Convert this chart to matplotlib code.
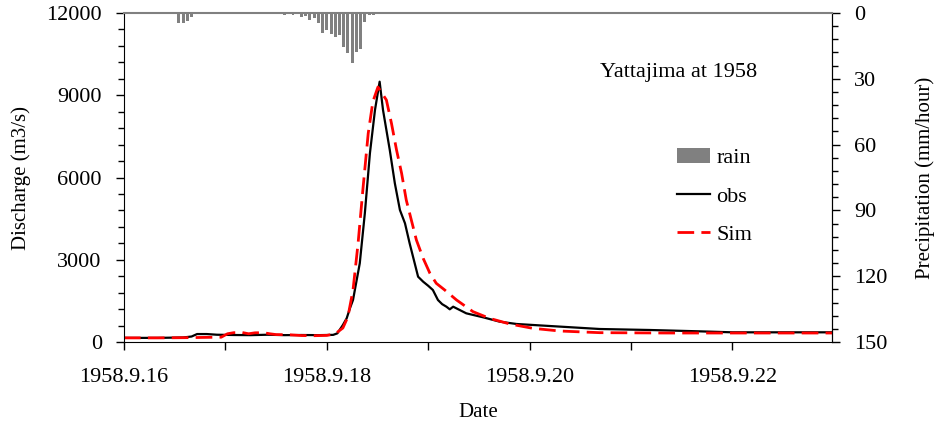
import matplotlib
matplotlib.use('Agg')
from matplotlib import pyplot as plt
from matplotlib.ticker import MultipleLocator

plt.rcParams['font.family'] = ['Liberation Serif', 'DejaVu Serif']

# hours counted from 1958-09-16 00:00
rain_hour = [3, 4, 12, 13, 14, 15, 16, 17,
             30, 31, 32, 33, 34, 35, 36, 37, 38, 39,
             40, 41, 42, 43, 44, 45, 46, 47, 48, 49,
             50, 51, 52, 53, 54, 55, 56, 57, 58, 59,
             60, 61, 62, 63, 64,
             153, 154, 155, 156, 157, 158, 159, 160]
rain_mm = [0.4, 0.5, 0.6, 4.6, 4.4, 3.6, 1.6, 0.5,
           0.4, 0.4, 0.3, 0.5, 0.4, 0.4, 0.5, 0.6, 0.8, 0.6,
           0.9, 0.6, 1.7, 1.4, 3.2, 2.4, 4.7, 9.3, 7.7, 9.7,
           10.8, 10.0, 15.4, 18.1, 22.9, 17.6, 16.4, 4.0, 0.9, 0.7,
           0.6, 0.5, 0.5, 0.4, 0.3,
           0.3, 0.4, 0.3, 0.5, 0.4, 0.5, 0.3, 0.4]

obs_hour = [0, 8, 14, 16, 17.3, 19.6, 22, 26, 30, 34, 38, 42, 46, 49.5,
            50.5, 51.8, 52.7, 53.5, 54.2, 55.8, 57.0, 58.2, 59.4, 60.5,
            61.3, 61.7, 62.9, 64.1, 65.3, 66.5, 67.6, 68.8, 69.6, 70.8,
            72, 73.1, 74.3, 75.3, 76.3, 77.1, 77.9, 81, 85, 88.9, 92.9,
            100.7, 112.6, 124.4, 136.2, 144, 168]
obs_q = [150, 150, 165, 200, 290, 290, 265, 255, 250, 265, 250, 255, 250, 260,
         316, 620, 864, 1240, 1532, 2870, 4694, 6882, 8462, 9495,
         8462, 8097, 7003, 5788, 4815, 4329, 3600, 2870, 2382, 2200,
         2050, 1897, 1532, 1380, 1288, 1192, 1288, 1046, 900, 742, 657,
         584, 474, 438, 389, 353, 353]

sim_hour = [0, 8, 16, 20, 23, 24.5, 26, 28, 29.5, 31, 33, 34.5, 36, 39, 42,
            45, 48, 50, 51.8, 53, 54.2, 55.4, 56.6, 57.8, 58.9, 60.1,
            62.1, 63.3, 64.5, 65.7, 66.8, 68, 69.2, 70.8, 72.4, 73.9,
            75.9, 78.7, 82.6, 86.5, 91.3, 96.7, 103.1, 112.6, 128.3, 168]
sim_q = [150, 150, 160, 170, 175, 300, 340, 345, 300, 335, 340, 300, 270, 265, 235,
         230, 240, 300, 510, 923, 1897, 3600, 5665, 7612, 8766, 9300,
         8827, 7977, 7003, 6153, 5180, 4450, 3720, 3053, 2506, 2141,
         1897, 1532, 1106, 864, 657, 500, 401, 340, 328, 328]

date_ticks = [0, 48, 96, 144]
date_labels = ['1958.9.16', '1958.9.18', '1958.9.20', '1958.9.22']

fig = plt.figure(figsize=(9.35, 4.25), dpi=100)
ax = fig.add_axes([0.1326, 0.1953, 0.757, 0.7741])
ax2 = ax.twinx()

l_obs, = ax.plot(obs_hour, obs_q, color='black', linewidth=1.6, label='obs')
l_sim, = ax.plot(sim_hour, sim_q, color='red', linewidth=2.0,
                 dashes=(6, 2.6), label='Sim')
bars = ax2.bar(rain_hour, rain_mm, width=0.7, color='#808080', label='rain')

ax.set_xlim(0, 167.5)
ax.set_ylim(0, 12000)
ax2.set_ylim(150, 0)

ax.set_xticks(date_ticks)
ax.set_xticklabels(date_labels)
ax.xaxis.set_minor_locator(MultipleLocator(24))
ax.yaxis.set_major_locator(MultipleLocator(3000))
ax.yaxis.set_minor_locator(MultipleLocator(600))
ax2.yaxis.set_major_locator(MultipleLocator(30))
ax2.yaxis.set_minor_locator(MultipleLocator(6))

ax.tick_params(axis='both', which='major', direction='out', length=6,
               width=1, labelsize=16)
ax.tick_params(axis='x', which='major', pad=13)
ax.tick_params(axis='y', which='major', pad=10)
ax.tick_params(axis='both', which='minor', direction='out', length=4, width=1)
ax.tick_params(axis='x', which='minor', length=6)
ax2.tick_params(axis='y', which='major', direction='out', length=6,
                width=1, labelsize=16, pad=10)
ax2.tick_params(axis='y', which='minor', direction='out', length=4, width=1)

ax.spines['top'].set_visible(False)
ax2.spines['top'].set_color('#808080')
ax2.spines['top'].set_linewidth(1.5)
ax2.spines['left'].set_visible(False)
ax2.spines['bottom'].set_visible(False)

ax.set_xlabel('Date', fontsize=15, labelpad=11)
ax.set_ylabel('Discharge (m3/s)', fontsize=15, labelpad=11)
ax2.set_ylabel('Precipitation (mm/hour)', fontsize=15, labelpad=20)

ax.text(0.672, 0.82, 'Yattajima at 1958', transform=ax.transAxes,
        fontsize=16, va='center', ha='left')

ax2.legend([bars, l_obs, l_sim], ['rain', 'obs', 'Sim'],
           loc='upper left', bbox_to_anchor=(0.782, 0.59), frameon=False,
           borderpad=0, borderaxespad=0, labelspacing=0.8, handlelength=1.45,
           handletextpad=0.3, fontsize=16)

fig.savefig('out.png', dpi=100)
